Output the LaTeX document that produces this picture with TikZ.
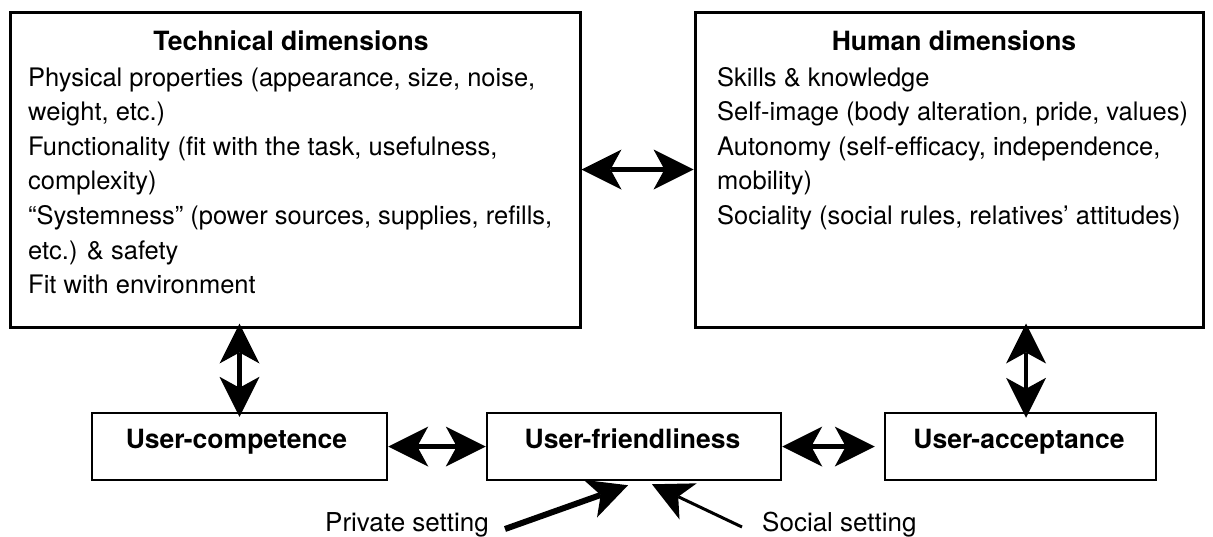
\documentclass[tikz,border=0pt]{standalone}
\usepackage{fontspec}
\setmainfont{TeX Gyre Heros}
\usetikzlibrary{arrows.meta,calc}
\begin{document}
\begin{tikzpicture}[x=1pt,y=-1pt,
  bigbox/.style={draw, line width=3pt, inner sep=0pt, minimum height=315pt},
  smallbox/.style={draw, line width=2.5pt, inner sep=0pt, minimum height=67pt},
  body/.style={anchor=base west, inner sep=0pt, font=\fontsize{25.5}{30}\selectfont},
  ttl/.style={anchor=base, inner sep=0pt, font=\bfseries\fontsize{26.5}{30}\selectfont},
  lbl/.style={anchor=base, inner sep=0pt, font=\bfseries\fontsize{26.5}{30}\selectfont},
  setl/.style={anchor=base west, inner sep=0pt, font=\fontsize{26}{30}\selectfont},
  bighead/.tip={Stealth[length=40pt,width=40pt,inset=11pt,line width=0pt]},
  dbl/.style={bighead-bighead, line width=4.5pt},
  single/.style={-bighead},
]
\useasboundingbox (0,0) rectangle (1213,536);

% top boxes
\node[bigbox, minimum width=570pt] (tech) at (295,169.5) {};
\node[bigbox, minimum width=508pt] (human) at (949,169.5) {};

\node[ttl] (techT) at (291,50) {Technical dimensions};
\node[ttl] (humanT) at (954,50) {Human dimensions};

\node[body] (t1) at (28,86) {Physical properties (appearance, size, noise,};
\node[body] (t2) at (28,120.6) {weight, etc.)};
\node[body] (t3) at (28,155.2) {Functionality (fit with the task, usefulness,};
\node[body] (t4) at (28,189.8) {complexity)};
\node[body] (t5) at (28,224.4) {“Systemness” (power sources, supplies, refills,};
\node[body] (t6) at (28,259) {etc.) \& safety};
\node[body] (t7) at (28,293.6) {Fit with environment};

\node[body] (h1) at (717,86) {Skills \& knowledge};
\node[body] (h2) at (717,120.6) {Self-image (body alteration, pride, values)};
\node[body] (h3) at (717,155.2) {Autonomy (self-efficacy, independence,};
\node[body] (h4) at (717,189.8) {mobility)};
\node[body] (h5) at (717,224.4) {Sociality (social rules, relatives’ attitudes)};

% bottom boxes
\node[smallbox, minimum width=295pt] (comp) at (239.5,446.5) {};
\node[smallbox, minimum width=294pt] (friend) at (634,446.5) {};
\node[smallbox, minimum width=271pt] (acc) at (1020.5,446.5) {};
\node[lbl] (compT) at ($(comp.center)+(-3,1.5)$) {User-competence};
\node[lbl] (friendT) at ($(friend.center)+(-1.5,1.5)$) {User-friendliness};
\node[lbl] (accT) at ($(acc.center)+(-1.5,1.5)$) {User-acceptance};

% settings
\node[setl] (priv) at (325,531) {Private setting};
\node[setl] (soc) at (762,531) {Social setting};
\coordinate (privtail) at (505,529);
\coordinate (soctail) at (742,527);
\coordinate (accin) at ($(acc.north)+(5.5,0)$);

% connectors
\draw[dbl] (tech.east) -- (human.west);
\draw[dbl, shorten <=-5pt, shorten >=-5pt] (comp.north |- tech.south) -- (comp.north);
\draw[dbl, shorten <=-5pt, shorten >=-6pt] (accin |- human.south) -- (accin);
\draw[dbl] (comp.east) -- (friend.west);
\draw[dbl, shorten >=9pt] (friend.east) -- (acc.west);
\draw[single, line width=6pt] (privtail) -- ($(friend.south)+(-6,4)$);
\draw[single, line width=3pt] (soctail) -- ($(friend.south)+(18,3)$);
\end{tikzpicture}
\end{document}
